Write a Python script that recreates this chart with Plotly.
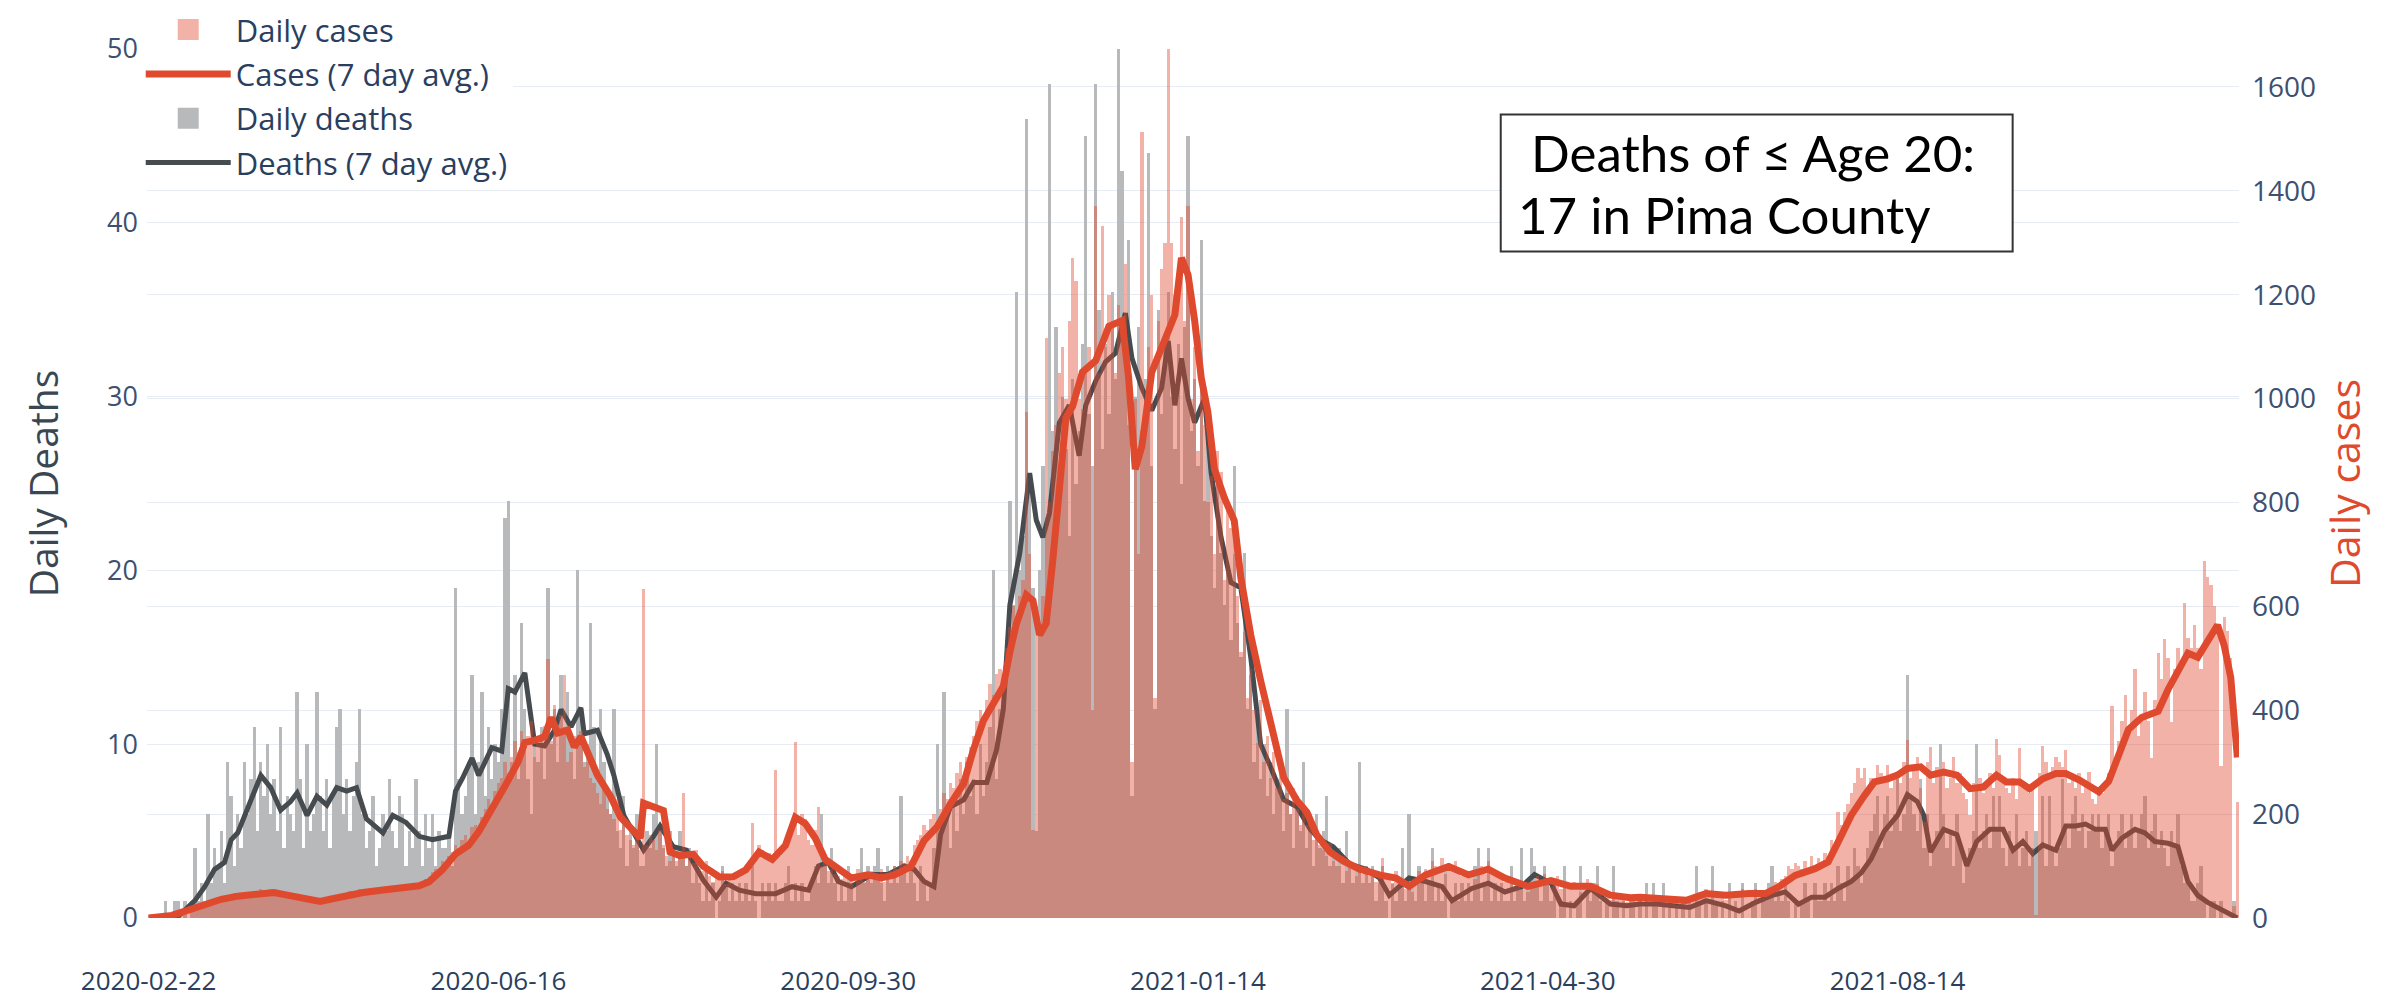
import plotly.graph_objects as go
import pandas as pd

# ---------------- data ----------------
FIRST_DATE = "2020-02-22"
SERIES_START = "2020-03-03"
N_DAYS = 634
DATES = [FIRST_DATE] + [d.strftime("%Y-%m-%d") for d in pd.date_range(SERIES_START, periods=N_DAYS - 1)]

TICK_LABELS = ["2020-02-22", "2020-06-16", "2020-09-30", "2021-01-14", "2021-04-30", "2021-08-14"]

DAILY_DEATHS = [
    0,0,0,0,0,1,0,0,1,1,  0,1,0,1,4,1,2,1,6,2,  4,3,5,2,9,7,3,6,4,9,  6,8,11,5,9,7,10,6,8,5,
    11,4,7,6,5,13,8,4,10,5,  6,13,7,5,8,4,7,11,12,6,  8,5,7,9,12,6,4,5,7,3,  4,6,5,8,5,4,7,6,3,5,
    4,8,5,3,6,4,6,3,5,4,  4,5,3,19,8,6,7,9,14,6,  9,13,7,11,8,10,9,12,23,24,  9,14,8,17,12,8,6,10,9,11,
    8,19,10,12,9,14,11,13,10,8,  20,12,9,10,17,11,8,12,9,7,  6,12,5,4,7,3,5,4,6,3,  3,5,4,6,10,5,4,3,5,4,
    3,5,4,3,4,2,3,2,1,3,  1,2,0,1,3,2,1,2,1,2,  1,2,1,3,1,0,2,1,2,1,  2,1,1,2,3,1,2,1,2,1,
    1,2,3,2,6,3,2,4,2,1,  2,1,3,2,1,2,4,2,3,2,  3,4,2,1,3,2,3,2,7,3,  2,3,2,1,3,2,1,2,4,10,
    5,13,6,4,7,5,8,6,9,7,  8,6,10,7,9,11,20,8,12,14,  16,24,18,36,20,22,46,25,19,5,  20,26,23,48,28,34,24,30,27,22,
    31,25,28,33,45,29,26,48,35,27,  33,29,36,31,50,43,32,39,7,30,  34,28,31,44,26,12,35,29,33,36,  30,27,33,25,34,45,28,31,26,39,
    24,28,22,19,25,21,18,20,16,26,  17,15,21,12,14,9,11,8,10,7,  9,6,8,7,5,12,6,4,7,5,  9,4,5,3,6,4,5,7,3,4,
    3,4,2,5,3,2,3,9,2,3,  2,3,1,2,3,1,0,2,1,2,  4,1,6,2,1,3,2,1,2,4,  1,2,1,3,0,1,2,1,2,1,
    2,1,3,4,1,2,4,1,2,1,  2,1,1,3,1,2,4,1,2,4,  3,2,1,3,2,1,2,0,1,3,  0,1,0,1,3,0,2,1,2,3,
    1,0,1,0,3,1,0,1,0,1,  1,0,1,0,2,0,2,1,0,2,  0,1,0,1,0,1,0,1,0,3,  1,0,1,0,3,1,0,1,0,2,
    0,1,0,2,0,0,1,2,0,1,  1,2,3,1,2,1,2,1,0,1,  0,1,2,1,0,2,1,1,2,1,  2,1,3,2,1,3,2,4,3,2,
    3,4,5,6,7,4,6,7,5,6,  8,5,6,14,7,6,5,8,4,6,  3,4,5,10,6,4,5,3,6,4,  2,3,4,5,10,4,5,6,4,7,
    5,7,4,3,5,4,6,3,4,5,  3,4,5,4,7,3,7,4,3,4,  8,5,4,6,7,5,6,4,5,6,  5,6,4,5,6,3,4,5,6,4,
    5,6,4,5,6,7,4,5,6,4,  5,4,3,5,4,6,3,2,2,1,  1,2,3,1,0,1,1,0,1,0,  0,0,1,0,
]

DAILY_CASES = [
    0,0,0,0,1,2,3,4,6,8,  10,14,12,18,20,16,25,22,28,24,  30,38,42,35,44,40,48,38,46,42,  50,44,52,46,55,48,42,56,50,47,
    45,40,48,38,42,36,44,35,40,33,  30,34,28,38,32,40,36,44,40,46,  48,52,45,50,56,47,51,44,55,49,  53,58,50,60,54,57,62,55,59,64,
    60,66,58,70,75,72,88,95,84,110,  105,120,128,140,135,150,160,145,175,180,  170,195,210,230,200,245,260,270,300,280,  310,340,320,360,330,350,380,310,340,355,
    370,499,340,410,360,390,468,300,320,350,  330,360,290,300,270,260,240,220,250,210,  200,190,230,170,180,160,150,140,170,130,  633,140,160,150,130,170,140,120,110,125,
    110,125,240,100,115,105,130,95,90,110,  80,70,85,75,90,65,80,72,85,78,  95,100,110,183,120,140,130,115,125,110,  284,120,140,150,170,180,338,160,200,190,
    150,140,170,213,100,110,90,95,85,80,  75,90,70,85,60,95,80,70,85,90,  75,80,95,70,85,90,100,95,110,105,  120,110,140,150,160,180,170,190,200,185,
    210,240,230,260,250,280,300,270,310,330,  350,380,400,370,420,450,430,470,480,460,  520,560,600,580,620,650,974,700,170,600,  560,620,1117,800,900,950,1050,1100,1000,1150,
    1271,1227,1000,980,1050,1100,400,1370,1050,1332,  1100,1200,1150,1050,1180,1120,1260,950,300,1000,  700,1513,1000,1100,1200,424,1150,1250,1300,1700,  1300,1200,1250,1350,1150,1370,1000,1100,900,1050,
    950,800,850,700,900,858,650,800,750,700,  620,512,550,424,480,400,336,420,300,350,  270,320,250,280,230,240,200,250,210,180,  220,180,200,150,170,140,130,120,145,110,
    115,100,120,90,105,95,80,100,85,90,  80,95,70,85,115,75,80,65,90,70,  60,55,70,50,75,90,80,95,85,110,  100,90,115,85,105,95,110,90,80,85,
    80,90,75,95,100,85,110,90,85,80,  75,70,80,65,60,70,55,65,50,60,  70,80,65,85,75,60,70,80,55,65,  60,55,70,65,50,60,75,55,60,65,
    50,40,45,35,50,40,35,45,30,40,  45,35,40,30,45,40,35,30,40,35,  30,40,35,25,40,30,35,30,40,45,  50,45,55,40,50,45,40,50,35,45,
    50,45,40,55,45,50,40,55,45,50,  45,55,60,70,65,75,80,100,95,105,  100,95,110,90,120,100,115,105,125,110,  150,140,204,180,204,220,240,260,288,270,
    288,250,270,260,294,280,260,294,250,270,  280,260,300,342,270,290,310,250,185,300,  329,260,290,280,300,250,270,310,260,280,  240,230,198,260,250,270,240,260,280,250,
    344,313,260,250,240,270,230,328,260,250,  240,260,5,280,332,300,270,290,310,300,  290,324,260,270,250,280,240,260,282,230,  220,250,240,260,280,409,300,340,380,429,
    360,400,479,350,390,436,380,309,420,510,  460,537,500,378,480,520,490,606,540,520,  564,520,480,687,656,641,600,560,293,580,  552,500,23,224,
]

DEATHS_AVG_DAY = [
    0,5,9,11,14,17,20,23,25,27,31,34,37,40,43,45,48,51,54,57,60,63,66,71,74,78,82,86,91,93,
    95,98,100,104,107,109,111,114,117,120,123,125,128,131,132,136,139,141,144,147,150,153,155,159,163,165,168,172,175,179,
    184,190,195,200,203,206,209,213,219,224,229,232,235,238,240,243,247,250,254,257,259,261,264,267,269,271,273,276,279,282,
    284,287,290,293,296,298,301,304,307,309,311,313,315,317,320,322,325,328,331,334,337,340,344,348,352,355,359,364,369,373,
    376,379,382,387,392,395,401,406,411,416,420,425,428,432,437,443,448,452,457,462,467,472,478,482,487,492,496,500,504,508,
    512,516,519,522,526,530,533,536,538,540,544,548,551,554,558,562,565,568,571,574,578,581,584,587,590,593,595,598,602,605,
    608,612,615,618,621,624,628,631,633,
]
DEATHS_AVG = [
    0,0,0.1,0.5,1,1.8,2.8,3.2,4.5,4.9,6.7,8.2,7.5,6.2,6.7,7.2,5.9,7,6.5,7.5,7.3,7.5,5.7,4.9,5.9,5.5,4.7,4.5,4.7,7.3,
    8,9.2,8.2,9.8,9.6,13.2,13,14.1,10,9.9,10.8,12,11,12.1,10.6,10.8,9.4,8.2,5.9,4.9,3.9,4.7,5.3,4.1,3.9,3.2,2.2,1.2,2,1.6,
    1.4,1.4,1.8,1.6,3,3.2,2.1,1.8,2.5,2.5,3,2.8,2.1,1.8,4.8,6.4,6.8,7.8,7.8,9.7,12,18,21,25.6,22.9,21.9,23.3,28.5,29.5,26.6,
    29.5,30.9,32,32.5,34.8,32.2,30.5,29.2,30.5,33.2,29.5,32.2,29.9,28.5,29.9,25.6,21.9,19.3,19,15,10,8.7,6.8,6.4,5.1,4.5,4.1,3.1,2.8,2.3,
    1.3,1.8,2.3,2.1,1.8,1,1.7,2,1.5,1.8,2.5,2,0.8,0.7,1.7,0.8,0.7,0.8,0.8,0.7,0.6,1,0.7,0.4,0.9,1.3,1.5,0.8,1.2,1.2,
    1.7,2.1,2.6,3.4,5,5.9,7.1,6.7,5.9,3.8,5.1,4.8,3,4.4,5.1,5.1,3.9,4.4,3.7,4.2,3.9,5.3,5.3,5.4,5.1,5.1,3.9,4.6,5.1,4.9,
    4.4,4.3,4.1,2.1,1.3,0.9,0.5,0.2,0,
]

CASES_AVG_DAY = [
    0,7,12,17,22,27,32,38,42,47,52,55,59,65,71,77,82,85,89,93,97,100,104,108,112,114,117,120,122,124,
    127,129,131,134,136,140,143,146,149,150,156,158,161,165,168,173,177,181,185,189,193,196,199,202,205,209,213,218,222,226,
    231,235,239,243,247,250,253,256,259,261,263,266,268,270,272,274,276,278,280,283,287,291,295,297,299,301,304,306,309,311,
    313,315,317,319,321,323,326,329,331,334,337,340,344,348,351,354,358,362,367,373,378,382,387,394,400,406,411,418,425,431,
    437,443,449,452,458,466,472,478,485,490,494,499,505,509,512,516,520,523,527,530,533,537,540,544,548,552,556,560,563,567,
    570,574,578,581,585,588,591,594,597,600,604,609,612,616,618,621,624,627,629,631,633,
]
CASES_AVG = [
    0,5,15,25,36,42,46,49,44,39,32,36,42,49,54,58,62,70,93,123,140,166,207,254,301,338,342,349,386,356,
    362,329,349,302,275,234,194,174,154,221,207,127,120,123,100,79,79,93,127,113,140,194,182,154,113,95,77,83,77,83,
    99,149,176,220,259,325,380,413,446,512,567,622,611,545,567,688,831,963,985,1051,1073,1139,1150,1040,864,908,1051,1084,1128,1161,
    1271,1238,1150,1040,974,864,809,765,655,545,457,380,270,226,204,160,127,110,94,83,77,61,83,99,83,94,77,61,72,61,
    61,44,39,40,37,34,47,44,47,47,60,82,95,108,146,198,236,262,268,275,288,291,275,281,275,249,252,275,262,262,
    249,268,278,278,266,255,243,263,309,363,386,398,440,486,510,502,533,564,525,463,309,
]

ANNOTATION_LINES = [" Deaths of \u2264 Age 20:", "17 in Pima County"]

# ---------------- figure ----------------
CASE_RED = "#df4a2e"
CASE_BAR = "rgba(224,72,45,0.42)"
CASE_SWATCH = "#f2b2a7"
DEATH_BAR = "#b8b9bb"
DEATH_DARK = "#464b4f"
TEXT_COL = "#2a3f5f"
TICK_COL = "#3d5070"

fig = go.Figure()
fig.add_trace(go.Bar(
    x=DATES, y=DAILY_DEATHS, name="Daily deaths", yaxis="y", showlegend=False,
    marker=dict(color=DEATH_BAR, line=dict(width=0)),
))
fig.add_trace(go.Scatter(
    x=[DATES[d] for d in DEATHS_AVG_DAY], y=DEATHS_AVG, name="Deaths (7 day avg.)",
    mode="lines", line=dict(color=DEATH_DARK, width=5), yaxis="y",
    legendrank=4, legendgroup="g4",
))
fig.add_trace(go.Bar(
    x=DATES, y=DAILY_CASES, name="Daily cases", yaxis="y2", showlegend=False,
    marker=dict(color=CASE_BAR, line=dict(width=0)),
))
fig.add_trace(go.Scatter(
    x=[DATES[d] for d in CASES_AVG_DAY], y=CASES_AVG, name="Cases (7 day avg.)",
    mode="lines", line=dict(color=CASE_RED, width=7), yaxis="y2",
    legendrank=2, legendgroup="g2",
))
# legend swatches for the bar series (square markers, larger than the built-in bar icon)
fig.add_trace(go.Scatter(
    x=[None], y=[None], name="Daily cases", mode="markers", yaxis="y2",
    marker=dict(symbol="square", size=16, color=CASE_SWATCH, line=dict(color=CASE_SWATCH, width=5)),
    legendrank=1, legendgroup="g1",
))
fig.add_trace(go.Scatter(
    x=[None], y=[None], name="Daily deaths", mode="markers", yaxis="y",
    marker=dict(symbol="square", size=16, color=DEATH_BAR, line=dict(color=DEATH_BAR, width=5)),
    legendrank=3, legendgroup="g3",
))

TICKFONT = dict(family="Open Sans, sans-serif", size=27, color=TICK_COL)

fig.update_layout(
    template="plotly_white",
    width=2387, height=996,
    margin=dict(l=139, r=156, t=41, b=86, autoexpand=False),
    barmode="overlay", bargap=0,
    paper_bgcolor="white", plot_bgcolor="white",
    font=dict(family="Open Sans, sans-serif", color=TEXT_COL),
    xaxis=dict(
        type="category", categoryorder="array", categoryarray=DATES,
        range=[-0.5, N_DAYS - 0.5], tickmode="array", tickvals=TICK_LABELS, ticktext=TICK_LABELS,
        showgrid=False, zeroline=False, showline=False,
        tickfont=dict(family="Open Sans, sans-serif", size=26, color=TEXT_COL), ticklabelstandoff=45,
    ),
    yaxis=dict(
        range=[0, 50], tickvals=[0, 10, 20, 30, 40, 50], showgrid=True, gridcolor="#e7ebf2",
        zeroline=False, tickfont=TICKFONT, automargin=False, ticklabelstandoff=8,
        title=dict(text="Daily Deaths", font=dict(family="Open Sans, sans-serif", size=39, color="#3a4652"), standoff=36),
    ),
    yaxis2=dict(
        range=[0, 1673], tickvals=[0, 200, 400, 600, 800, 1000, 1200, 1400, 1600],
        overlaying="y", side="right", showgrid=True, gridcolor="#e7ebf2", zeroline=False,
        tickfont=dict(family="Open Sans, sans-serif", size=28, color=TICK_COL), automargin=False,
        ticklabelstandoff=12,
        title=dict(text="Daily cases", font=dict(family="Open Sans, sans-serif", size=41, color=CASE_RED), standoff=12),
    ),
    legend=dict(
        x=-0.003, y=1.053, xanchor="left", yanchor="top", bgcolor="white",
        font=dict(size=31, color=TEXT_COL), itemwidth=85, traceorder="grouped", tracegroupgap=1,
    ),
    showlegend=True,
)

# annotation box
fig.add_shape(type="rect", xref="paper", yref="paper", x0=0.6471, x1=0.8918, y0=0.767, y1=0.9247,
              line=dict(color="#333333", width=2), fillcolor="white", layer="above")
fig.add_annotation(xref="paper", yref="paper", x=0.6543, y=0.881, text=ANNOTATION_LINES[0],
                   showarrow=False, xanchor="left", yanchor="middle",
                   font=dict(family="Lato, Open Sans, sans-serif", size=51, color="black"))
fig.add_annotation(xref="paper", yref="paper", x=0.6543, y=0.809, text=ANNOTATION_LINES[1],
                   showarrow=False, xanchor="left", yanchor="middle",
                   font=dict(family="Lato, Open Sans, sans-serif", size=51, color="black"))

fig.write_html("out.html")
